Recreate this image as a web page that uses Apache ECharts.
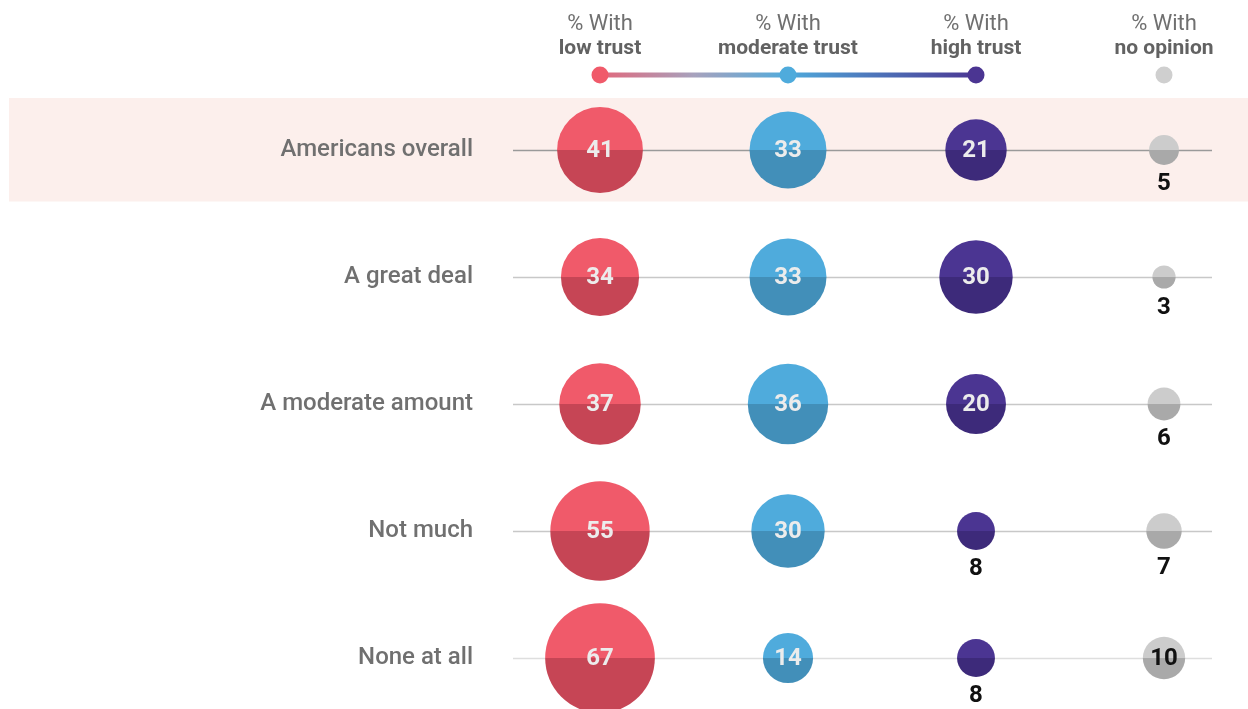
<!DOCTYPE html>
<html><head><meta charset="utf-8">
<script src="https://cdn.jsdelivr.net/npm/echarts@6/dist/echarts.min.js"></script>
<style>html,body{margin:0;padding:0;background:#fff}#c{width:1248px;height:709px}</style>
</head><body><div id="c"></div>
<script>
var categories = ['Americans overall','A great deal','A moderate amount','Not much','None at all'];
var columnTitles = ['low trust','moderate trust','high trust','no opinion'];
var lowTrust = [41,34,37,55,67];
var moderateTrust = [33,33,36,30,14];
var highTrust = [21,30,20,8,8];
var noOpinion = [5,3,6,7,10];

var FONT = 'Roboto, "Noto Sans", sans-serif';
var colTop = ['#f05a6a','#4fabdc','#4b3592','#cccccc'];
var colBot = ['#c64555','#428fb9','#3d2a7a','#a9a9a9'];
var inColor = ['#ececec','#ececec','#ececec','#111'];

function grad(i){
  return {type:'linear',x:0,y:0,x2:0,y2:1,colorStops:[
    {offset:0,color:colTop[i]},{offset:0.5,color:colTop[i]},
    {offset:0.5,color:colBot[i]},{offset:1,color:colBot[i]}]};
}
function mkSeries(vals, i){
  return {
    type:'scatter', clip:false, z:5,
    symbolSize:function(d){return 13.4*Math.sqrt(d[2]);},
    itemStyle:{color:grad(i), opacity:1},
    emphasis:{disabled:true},
    data: vals.map(function(v,r){
      var inside = v>=10;
      return {value:[i, categories[r], v], label:{show:true, position: inside?'inside':'bottom',
        distance:6, offset: inside?[0,1]:[0,1], formatter:String(v), fontFamily:FONT, fontWeight:'bold', fontSize:24,
        color: inside?inColor[i]:'#111'}};
    })
  };
}

var chart = echarts.init(document.getElementById('c'), null, {renderer:'canvas'});
var option = {
  animation:false,
  backgroundColor:'#fff',
  grid:{left:513, right:36, top:150, bottom:51, containLabel:false},
  xAxis:{type:'value', min:-0.4628, max:3.2553, show:false},
  yAxis:{type:'category', data:categories, inverse:true, boundaryGap:false,
    axisLine:{show:false}, axisTick:{show:false},
    axisLabel:{margin:40, fontFamily:FONT, fontSize:24, fontWeight:500, color:'#707070', padding:[4,0,0,0]},
    splitLine:{show:true, lineStyle:{width:1.3, color:['#9a9a9a','#c8c8c8','#c8c8c8','#c8c8c8','#dedede']}}
  },
  series:[mkSeries(lowTrust,0), mkSeries(moderateTrust,1), mkSeries(highTrust,2), mkSeries(noOpinion,3)]
};
chart.setOption(option);

var g = [];
var y0 = chart.convertToPixel({yAxisIndex:0}, categories[0]);
var rowGap = chart.convertToPixel({yAxisIndex:0}, categories[1]) - y0;
g.push({type:'rect', z:-100, shape:{x:9, y:y0-rowGap*0.41, width:1239, height:rowGap*0.815}, style:{fill:'#fcefec'}});
var xs = columnTitles.map(function(t,i){return chart.convertToPixel({xAxisIndex:0}, i);});
columnTitles.forEach(function(t,i){
  g.push({type:'text', x:xs[i], y:24, style:{text:'% With', fontFamily:FONT, fontSize:22, fill:'#707070', align:'center', verticalAlign:'middle'}});
  g.push({type:'text', x:xs[i], y:49, style:{text:t, fontFamily:FONT, fontSize:21, fontWeight:'bold', fill:'#626262', align:'center', verticalAlign:'middle'}});
});
var ly = 75;
g.push({type:'line', shape:{x1:xs[0], y1:ly, x2:xs[1], y2:ly}, style:{lineWidth:5, stroke:{type:'linear',x:0,y:0,x2:1,y2:0,colorStops:[{offset:0,color:'#e3667a'},{offset:0.5,color:'#a7a2bd'},{offset:1,color:'#4fabdc'}]}}});
g.push({type:'line', shape:{x1:xs[1], y1:ly, x2:xs[2], y2:ly}, style:{lineWidth:5, stroke:{type:'linear',x:0,y:0,x2:1,y2:0,colorStops:[{offset:0,color:'#4fabdc'},{offset:1,color:'#4b3592'}]}}});
for (var i=0;i<4;i++){
  g.push({type:'circle', z:10, shape:{cx:xs[i], cy:ly, r:8.5}, style:{fill: i===3?'#cfcfcf':colTop[i]}});
}
chart.setOption({graphic:{elements:g}});
</script>
</body></html>
